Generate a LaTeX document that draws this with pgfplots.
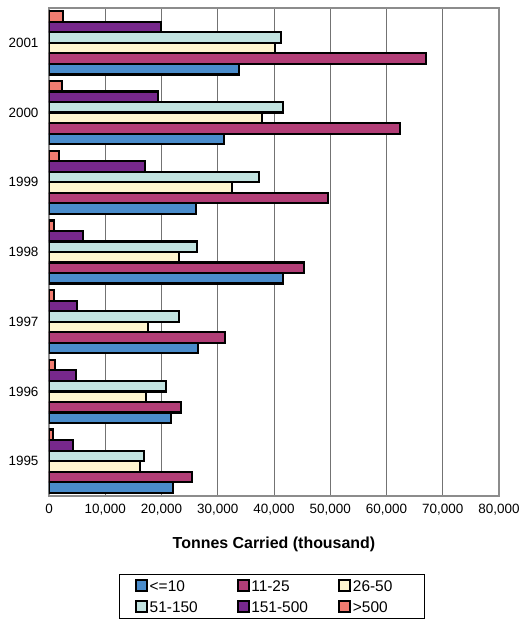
\documentclass[border=0pt]{standalone}
\usepackage{pgfplots}
\pgfplotsset{compat=1.18}
\usepackage{fontspec}
\setmainfont{Liberation Sans}
\definecolor{cA}{HTML}{4A8CCB}
\definecolor{cB}{HTML}{B23E77}
\definecolor{cC}{HTML}{FFF6D0}
\definecolor{cD}{HTML}{C2E3E0}
\definecolor{cE}{HTML}{77288C}
\definecolor{cF}{HTML}{F17C70}
\newcommand{\legtxt}[1]{\makebox[70bp][l]{\strut #1}}
\pgfplotsset{barst/.style={draw=black, line width=2.2bp}}
\begin{document}
\begin{tikzpicture}
\begin{axis}[
  name=ax,
  scale only axis,
  width=450bp, height=488bp,
  xbar=0pt,
  bar width=0.151,
  xmin=0, xmax=80000,
  ymin=-0.5, ymax=6.5,
  ytick={0,1,2,3,4,5,6},
  yticklabels={1995,1996,1997,1998,1999,2000,2001},
  xtick={0,10000,20000,30000,40000,50000,60000,70000,80000},
  scaled x ticks=false,
  xticklabel style={/pgf/number format/1000 sep={,}, /pgf/number format/assume math mode=true, yshift=-5bp},
  yticklabel style={xshift=-7bp},
  ticklabel style={font=\fontsize{13.5}{16}\selectfont},
  major tick length=0pt,
  xmajorgrids,
  grid style={draw=black!55, line width=1bp},
  axis line style={draw=black!45, line width=1.2bp},
  xlabel={Tonnes Carried (thousand)},
  xlabel style={font=\fontsize{16}{19}\selectfont\bfseries, at={(axis description cs:0.5,-0.1086)}, anchor=base},
  legend columns=3,
  legend cell align=left,
  legend style={at={(0.4956,-0.1592)}, anchor=north, draw=black, line width=0.8bp,
    font=\fontsize{15.5}{18}\selectfont, inner xsep=0pt, inner ysep=1.5bp,
    column sep=0pt, row sep=0pt, nodes={inner xsep=1.5bp, inner ysep=3.3bp}},
  legend image code/.code={\path (0bp,0bp) (15bp,0bp); \draw[#1, line width=2bp] (15.5bp,-5.3bp) rectangle (26.5bp,5.7bp);},
]
\addplot[barst, fill=cA] coordinates {(22100,0) (21630,1) (26490,2) (41600,3) (26140,4) (31170,5) (33720,6)};
\addplot[barst, fill=cB] coordinates {(25480,0) (23520,1) (31350,2) (45390,3) (49660,4) (62460,5) (67030,6)};
\addplot[barst, fill=cC] coordinates {(16180,0) (17250,1) (17600,2) (23170,3) (32540,4) (37870,5) (40120,6)};
\addplot[barst, fill=cD] coordinates {(16950,0) (20800,1) (23050,2) (26260,3) (37400,4) (41540,5) (41190,6)};
\addplot[barst, fill=cE] coordinates {(4330,0) (4740,1) (5040,2) (5990,3) (17130,4) (19320,5) (19970,6)};
\addplot[barst, fill=cF] coordinates {(770,0) (1070,1) (950,2) (890,3) (1780,4) (2370,5) (2540,6)};
\legend{\legtxt{<=10},\legtxt{11-25},\legtxt{26-50},\legtxt{51-150},\legtxt{151-500},\legtxt{>500}}
\end{axis}
\pgfresetboundingbox
\path[use as bounding box] ([shift={(-49bp,-123bp)}]ax.south west) rectangle ([shift={(22bp,8bp)}]ax.north east);
\end{tikzpicture}
\end{document}
